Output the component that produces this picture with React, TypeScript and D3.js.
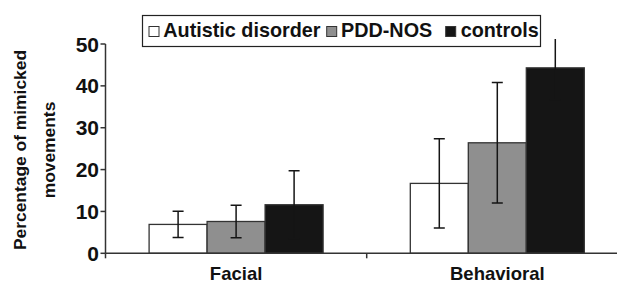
import React from "react";
import * as d3 from "d3";

const categories = ["Facial", "Behavioral"];
const seriesNames = ["Autistic disorder", "PDD-NOS", "controls"];
const seriesColors = ["#ffffff", "#8f8f8f", "#151515"];
const meansAutistic = [6.9, 16.7];
const meansPDD = [7.6, 26.4];
const meansControls = [11.6, 44.3];
const sdAutistic = [3.15, 10.65];
const sdPDD = [3.9, 14.4];
const sdControls = [8.1, 7.6];
const yTicks = [0, 10, 20, 30, 40, 50];

const means = [meansAutistic, meansPDD, meansControls];
const sds = [sdAutistic, sdPDD, sdControls];

const W = 617;
const H = 284;
const FONT = "'Liberation Sans', Arial, Helvetica, sans-serif";

export default function App() {
  const axisX = 105.5;
  const y = d3.scaleLinear().domain([0, 50]).range([253.3, 44]);
  const x0 = d3.scaleBand<string>().domain(categories).range([axisX, axisX + 2 * 261.2]);
  const groupW = 174;
  const x1 = d3
    .scaleBand<string>()
    .domain(seriesNames)
    .range([(x0.bandwidth() - groupW) / 2, (x0.bandwidth() + groupW) / 2]);
  const clipTop = y(51.2);
  const capW = 11;
  const legendItems = [
    { sx: 149, tx: 163.3 },
    { sx: 326.7, tx: 341 },
    { sx: 445.7, tx: 460.7 },
  ];

  return (
    <svg
      width={W}
      height={H}
      style={{ position: "absolute", left: 0, top: 0, background: "#fff" }}
      fontFamily={FONT}
    >
      <defs>
        <clipPath id="plotClip">
          <rect x={axisX} y={clipTop} width={W} height={H - clipTop} />
        </clipPath>
      </defs>
      <rect x={0} y={0} width={W} height={H} fill="#fff" />

      {/* bars */}
      <g>
        {categories.map((c, ci) =>
          seriesNames.map((s, si) => {
            const v = means[si][ci];
            const bx = (x0(c) as number) + (x1(s) as number);
            return (
              <rect
                key={c + s}
                x={bx}
                y={y(v)}
                width={x1.bandwidth()}
                height={y(0) - y(v)}
                fill={seriesColors[si]}
                stroke="#333"
                strokeWidth={1.3}
              />
            );
          })
        )}
      </g>

      {/* error bars */}
      <g clipPath="url(#plotClip)" stroke="#151515" strokeWidth={1.5}>
        {categories.map((c, ci) =>
          seriesNames.map((s, si) => {
            const v = means[si][ci];
            const sd = sds[si][ci];
            const cx = (x0(c) as number) + (x1(s) as number) + x1.bandwidth() / 2;
            const top = y(v + sd);
            const bot = y(v - sd);
            return (
              <g key={"e" + c + s}>
                <line x1={cx} x2={cx} y1={top} y2={bot} />
                <line x1={cx - capW / 2} x2={cx + capW / 2} y1={top} y2={top} />
                <line x1={cx - capW / 2} x2={cx + capW / 2} y1={bot} y2={bot} />
              </g>
            );
          })
        )}
      </g>

      {/* axes */}
      <g stroke="#333" strokeWidth={1.5}>
        <line x1={axisX} x2={axisX} y1={y(50)} y2={y(0)} />
        {yTicks.map((t) => (
          <line key={"yt" + t} x1={axisX - 5} x2={axisX} y1={y(t)} y2={y(t)} />
        ))}
        <line x1={axisX} x2={W} y1={y(0)} y2={y(0)} />
        {[...categories.map((c) => x0(c) as number), (x0(categories[1]) as number) + x0.bandwidth()].map(
          (tx, i) => (
            <line key={"xt" + i} x1={tx} x2={tx} y1={y(0)} y2={y(0) + 5} />
          )
        )}
      </g>
      <g fontWeight="bold" fill="#111">
        {yTicks.map((t) => (
          <text key={"yl" + t} x={99} y={y(t)} dy="0.36em" textAnchor="end" fontSize={21}>
            {t}
          </text>
        ))}
        {categories.map((c) => (
          <text
            key={"xl" + c}
            x={(x0(c) as number) + x0.bandwidth() / 2}
            y={279.5}
            textAnchor="middle"
            fontSize={18.5}
          >
            {c}
          </text>
        ))}
      </g>

      {/* y title */}
      <g fontSize={17.4} fontWeight="bold" fill="#111">
        <text transform={`translate(26,150) rotate(-90)`} textAnchor="middle">
          Percentage of mimicked
        </text>
        <text transform={`translate(55,150) rotate(-90)`} textAnchor="middle">
          movements
        </text>
      </g>

      {/* legend */}
      <g>
        <rect x={142.5} y={15.5} width={398} height={31} fill="#fff" stroke="#222" strokeWidth={1.2} />
        {seriesNames.map((s, i) => (
          <g key={"lg" + s}>
            <rect
              x={legendItems[i].sx}
              y={26.5}
              width={10}
              height={10}
              fill={seriesColors[i]}
              stroke="#333"
              strokeWidth={1}
            />
            <text x={legendItems[i].tx} y={37.3} fontSize={19.8} fontWeight="bold" fill="#111">
              {s}
            </text>
          </g>
        ))}
      </g>
    </svg>
  );
}
